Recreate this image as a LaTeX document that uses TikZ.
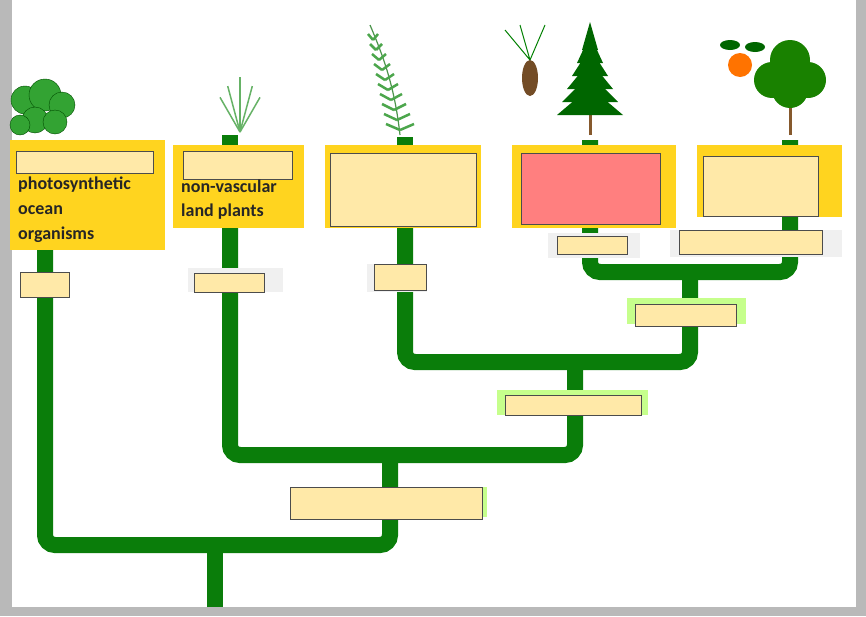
\documentclass[tikz,border=0pt]{standalone}
\usepackage{fontspec}
\setmainfont{Carlito}
\begin{document}
\begin{tikzpicture}[x=1pt,y=-1pt]
\definecolor{tg}{RGB}{10,125,10}
\definecolor{ansc}{RGB}{255,233,168}
\tikzset{br/.style={draw=tg,line width=16pt,rounded corners=10pt},
 ansbox/.style={fill=ansc,draw=gray!60!black,line width=0.8pt},
 gold/.style={fill={rgb,255:red,255;green,212;blue,31},draw=none},
 gbg/.style={fill=gray!12,draw=none},
 lbg/.style={fill=green!50!yellow!45!white,draw=none},
 lbl/.style={anchor=west,text=black!85,align=left,inner sep=0pt}}
\useasboundingbox (0,0) rectangle (866,616);
\fill[gray!55] (0,0) rectangle (866,616);
\fill[white] (12,0) rectangle (856,607);
% tree
\draw[br] (215,607) -- (215,545);
\draw[br] (45,250) -- (45,545) -- (390,545) -- (390,455);
\draw[br] (230,200) -- (230,455) -- (575,455) -- (575,362);
\draw[br] (405,200) -- (405,362) -- (690,362) -- (690,272);
\draw[br] (590,140) -- (590,272) -- (790,272) -- (790,140);
\draw[br,rounded corners=0pt] (230,135) -- (230,150) (405,137) -- (405,150) (45,140)--(45,150);
% label backgrounds
\node[gold,minimum width=155pt,minimum height=110pt,anchor=north west] (g1) at (10,140) {};
\node[gold,minimum width=131pt,minimum height=83pt,anchor=north west] (g2) at (173,145) {};
\node[gold,minimum width=156pt,minimum height=83pt,anchor=north west] (g3) at (325,145) {};
\node[gold,minimum width=164pt,minimum height=83pt,anchor=north west] (g4) at (512,145) {};
\node[gold,minimum width=145pt,minimum height=72pt,anchor=north west] (g5) at (697,145) {};
\node[ansbox,minimum width=137pt,minimum height=22pt,anchor=north west] (a1) at (16,151) {};
\node[ansbox,minimum width=109pt,minimum height=28pt,anchor=north west] (a2) at (183,151) {};
\node[ansbox,minimum width=146pt,minimum height=73pt,anchor=north west] (a3) at (330,153) {};
\node[ansbox,fill={rgb,255:red,255;green,127;blue,127},minimum width=139pt,minimum height=71pt,anchor=north west] (a4) at (521,153) {};
\node[ansbox,minimum width=115pt,minimum height=60pt,anchor=north west] (a5) at (703,156) {};
\node[lbl,font=\bfseries\fontsize{18pt}{25pt}\selectfont] (t1) at (18,210) {photosynthetic\\ocean\\organisms};
\node[lbl,font=\bfseries\fontsize{18pt}{24pt}\selectfont] (t2) at (181,200) {non-vascular\\land plants};
% small boxes
\node[gbg,minimum width=95pt,minimum height=24pt,anchor=north west] (b2) at (188,268) {};
\node[gbg,minimum width=60pt,minimum height=28pt,anchor=north west] (b3) at (367,264) {};
\node[gbg,minimum width=92pt,minimum height=25pt,anchor=north west] (b4) at (548,233) {};
\node[gbg,minimum width=172pt,minimum height=27pt,anchor=north west] (b5) at (670,230) {};
\node[lbg,minimum width=119pt,minimum height=26pt,anchor=north west] (b6) at (627,298) {};
\node[lbg,minimum width=151pt,minimum height=25pt,anchor=north west] (b7) at (497,390) {};
\node[lbg,minimum width=197pt,minimum height=30pt,anchor=north west] (b8) at (290,487) {};
\node[ansbox,minimum width=49pt,minimum height=25pt,anchor=north west] (s1) at (20,272) {};
\node[ansbox,minimum width=70pt,minimum height=19pt,anchor=north west] (s2) at (194,273) {};
\node[ansbox,minimum width=52pt,minimum height=26pt,anchor=north west] (s3) at (374,264) {};
\node[ansbox,minimum width=70pt,minimum height=18pt,anchor=north west] (s4) at (557,236) {};
\node[ansbox,minimum width=143pt,minimum height=24pt,anchor=north west] (s5) at (679,230) {};
\node[ansbox,minimum width=101pt,minimum height=22pt,anchor=north west] (s6) at (635,304) {};
\node[ansbox,minimum width=136pt,minimum height=20pt,anchor=north west] (s7) at (505,395) {};
\node[ansbox,minimum width=192pt,minimum height=32pt,anchor=north west] (s8) at (290,487) {};
% plants (stylised)
\foreach \x/\y/\r in {25/100/14,45/95/16,62/105/13,35/120/13,55/122/12,20/125/10}
  \fill[green!55!black!80!white,draw=green!30!black] (\x,\y) circle (\r);
\foreach \a in {-30,-15,0,15,30}
  \draw[green!50!black!60,line width=1.5pt] (240,132) -- ++(\a-90:{55-abs(\a)/2});
\draw[green!40!black!70,line width=1.2pt] (400,135) .. controls (395,90) and (385,60) .. (370,25);
\foreach \t in {0,1,...,9}
  \draw[green!50!black!70,line width=2.5pt] ({400-3*\t},{130-10*\t}) -- ++(-14+\t,-6) ({400-3*\t},{130-10*\t}) -- ++(14-\t,-6);
\draw[brown!70!black,line width=3pt] (590,135) -- (590,100);
\foreach \i in {0,...,5}
  \fill[green!40!black] ({590-(8+5*\i)},{30+13*\i+20}) -- (590,{22+13*\i}) -- ({590+8+5*\i},{30+13*\i+20}) -- cycle;
\fill[brown!60!black] (530,78) ellipse (8 and 18);
\draw[green!50!black,line width=1pt] (530,60) -- (505,30) (530,60) -- (545,25) (530,60)--(520,25);
\draw[brown!70!black,line width=3pt] (790,135) -- (790,95);
\foreach \x/\y/\r in {772/80/18,808/80/18,790/60/20,790/90/18}
  \fill[green!45!black!90!yellow] (\x,\y) circle (\r);
\fill[orange!90!red] (740,65) circle (12);
\fill[green!40!black] (730,45) ellipse (10 and 5) (755,47) ellipse (10 and 5);
\end{tikzpicture}
\end{document}
